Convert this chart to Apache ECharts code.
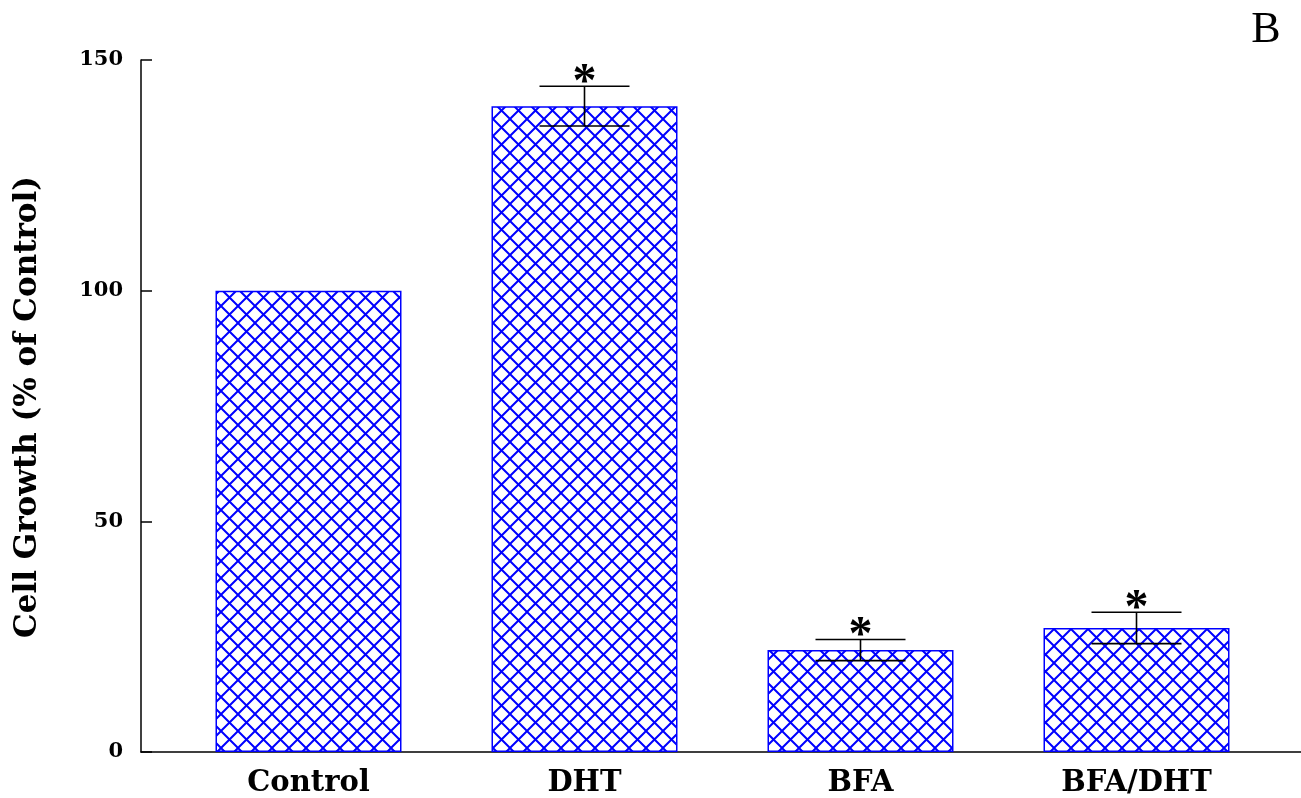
<!DOCTYPE html>
<html>
<head>
<meta charset="utf-8">
<script src="https://cdn.jsdelivr.net/npm/echarts@6/dist/echarts.min.js"></script>
<style>html,body{margin:0;padding:0;background:#fff}#c{width:1301px;height:798px}</style>
</head>
<body>
<div id="c"></div>
<script>
var categories = ['Control', 'DHT', 'BFA', 'BFA/DHT'];
var growth = [100, 140, 22.1, 26.9];
var errors = [0, 4.3, 2.3, 3.4];
var significant = [false, true, true, true];
var yTicks = [0, 50, 100, 150];

function hatch() {
  var s = 17, c = document.createElement('canvas');
  c.width = s; c.height = s;
  var g = c.getContext('2d');
  g.fillStyle = '#fff'; g.fillRect(0, 0, s, s);
  g.strokeStyle = '#0000ff'; g.lineWidth = 2;
  g.beginPath();
  g.moveTo(-2, -2); g.lineTo(s + 2, s + 2);
  g.moveTo(s + 2, -2); g.lineTo(-2, s + 2);
  g.stroke();
  return c;
}

var chart = echarts.init(document.getElementById('c'));
var serif = 'DejaVu Serif';
var option = {
  animation: false,
  backgroundColor: '#fff',
  grid: [
    { left: 141, right: 0, top: 60, bottom: 46 },
    { left: 170.5, width: 1104, top: 60, bottom: 46 }
  ],
  xAxis: [
    { gridIndex: 0, type: 'value', min: 0, max: 1,
      axisLine: { show: true, onZero: false, lineStyle: { color: '#000', width: 1.5 } },
      axisTick: { show: false }, axisLabel: { show: false }, splitLine: { show: false } },
    { gridIndex: 1, type: 'category', data: categories,
      axisLine: { show: false }, axisTick: { show: false }, splitLine: { show: false },
      axisLabel: { margin: 17, color: '#000', fontFamily: serif, fontWeight: 'bold', fontSize: 29 } }
  ],
  yAxis: [
    { gridIndex: 0, type: 'value', min: yTicks[0], max: yTicks[yTicks.length - 1], interval: 50,
      axisLine: { show: true, lineStyle: { color: '#000', width: 1.5 } },
      axisTick: { show: true, inside: true, length: 11, lineStyle: { color: '#000', width: 1.5 } },
      axisLabel: { margin: 18, color: '#000', fontFamily: serif, fontWeight: 'bold', fontSize: 21 },
      splitLine: { show: false } },
    { gridIndex: 1, type: 'value', min: 0, max: 150, show: false, splitLine: { show: false } }
  ],
  series: [
    { type: 'bar', xAxisIndex: 1, yAxisIndex: 1, data: growth, barWidth: 186, z: 2,
      itemStyle: { color: { image: hatch(), repeat: 'repeat' }, borderColor: '#0000ff', borderWidth: 1.5 } },
    { type: 'custom', xAxisIndex: 1, yAxisIndex: 1, z: 5,
      data: growth.map(function (v, i) { return [i, v, errors[i], significant[i] ? 1 : 0]; }),
      renderItem: function (params, api) {
        var i = api.value(0), v = api.value(1), e = api.value(2), sig = api.value(3);
        var children = [];
        if (e > 0) {
          var top = api.coord([i, v + e]), bot = api.coord([i, v - e]);
          var hw = 45, st = { stroke: '#000', lineWidth: 1.6 };
          children.push({ type: 'line', z2: 10, shape: { x1: top[0], y1: top[1], x2: bot[0], y2: bot[1] }, style: st });
          children.push({ type: 'line', z2: 10, shape: { x1: top[0] - hw, y1: top[1], x2: top[0] + hw, y2: top[1] }, style: st });
          children.push({ type: 'line', z2: 10, shape: { x1: bot[0] - hw, y1: bot[1], x2: bot[0] + hw, y2: bot[1] }, style: st });
          if (sig) {
            children.push({ type: 'text', x: top[0], y: top[1] + 21,
              style: { text: '*', fill: '#000', fontFamily: 'Liberation Serif', fontWeight: 'bold', fontSize: 48,
                align: 'center', verticalAlign: 'bottom' } });
          }
        }
        return { type: 'group', children: children };
      } }
  ],
  graphic: [
    { type: 'text', x: 28, y: 407, rotation: Math.PI / 2,
      style: { text: 'Cell Growth (% of Control)', fill: '#000', fontFamily: serif, fontWeight: 'bold', fontSize: 31,
        align: 'center', verticalAlign: 'middle' } },
    { type: 'text', x: 1266, y: 30,
      style: { text: 'B', fill: '#000', fontFamily: 'Liberation Serif', fontSize: 44, align: 'center', verticalAlign: 'middle' } }
  ]
};
chart.setOption(option);
</script>
</body>
</html>
